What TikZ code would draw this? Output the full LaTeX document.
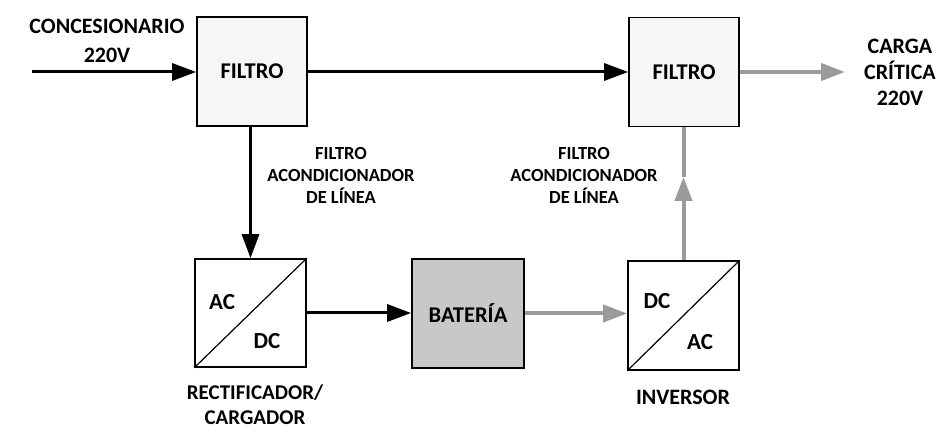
\documentclass[tikz,border=0pt]{standalone}
\usepackage{fontspec}
\setmainfont{Carlito}
\usetikzlibrary{arrows.meta}
\definecolor{arrgray}{RGB}{155,155,155}
\definecolor{boxfill}{RGB}{246,246,246}
\definecolor{batfill}{RGB}{200,200,200}
\tikzset{
  blk/.style={draw=black,line width=3pt,-{Triangle[length=24pt,width=17pt]}},
  gry/.style={draw=arrgray,line width=4pt,-{Triangle[length=24pt,width=17pt]}},
  gryline/.style={draw=arrgray,line width=4pt},
  blockbox/.style={draw=black,line width=1.6pt,minimum width=110pt,minimum height=109pt,inner sep=0pt,font=\bfseries\fontsize{22.5}{26}\selectfont},
  lbl/.style={font=\bfseries\fontsize{22}{27}\selectfont,align=center,inner sep=0pt},
  small/.style={font=\bfseries\fontsize{18.5}{22}\selectfont,align=center,inner sep=0pt},
  conv/.style={font=\bfseries\fontsize{23}{26}\selectfont,inner sep=0pt}
}
\begin{document}
\begin{tikzpicture}[x=1pt,y=-1pt]
\useasboundingbox[fill=white] (0,0) rectangle (947,435);
% boxes
\node[blockbox,fill=boxfill] (f1) at (252,71.5) {FILTRO};
\node[blockbox,fill=boxfill] (f2) at (684,72) {FILTRO};
\node[blockbox,fill=white,minimum width=111pt,minimum height=108pt] (rect) at (250.5,313) {};
\node[blockbox,fill=batfill,minimum width=112pt] (bat) at (468,313.5) {BATERÍA};
\node[blockbox,fill=white,minimum width=111pt] (inv) at (683.5,315.5) {};
\draw[line width=1.2pt] (rect.south west) -- (rect.north east);
\draw[line width=1.2pt] (inv.south west) -- (inv.north east);
\node[conv] (ac1) at (222,302) {AC};
\node[conv] (dc1) at (267,341) {DC};
\node[conv] (dc2) at (657,301) {DC};
\node[conv] (ac2) at (700,342) {AC};
% labels
\node[lbl,font=\bfseries\fontsize{22}{29}\selectfont] (src) at (107,40.5) {CONCESIONARIO\\220V};
\node[lbl,font=\bfseries\fontsize{22}{26}\selectfont] (load) at (900,72) {CARGA\\CRÍTICA\\220V};
\node[small] (lab1) at (341,175) {FILTRO\\ACONDICIONADOR\\DE LÍNEA};
\node[small] (lab2) at (584,175) {FILTRO\\ACONDICIONADOR\\DE LÍNEA};
\node[lbl,font=\bfseries\fontsize{21}{25}\selectfont] (rlab) at (255,404.5) {RECTIFICADOR/\\CARGADOR};
\node[lbl] (ilab) at (683,397) {INVERSOR};
% connectors
\coordinate (in) at (32,72);
\coordinate (out) at (845,72);
\coordinate (mid) at (683.5,177);
\draw[blk] (in) -- (in -| f1.west);
\draw[blk] (f1.east |- in) -- (in -| f2.west);
\draw[gry] (f2.east |- out) -- (out);
\draw[blk] (f1.south -| rect.north) -- (rect.north);
\draw[blk] (rect.east) -- (rect.east -| bat.west);
\draw[gry] (bat.east) -- (bat.east -| inv.west);
\draw[gry] (inv.north) -- (mid);
\draw[gryline] (mid) -- (mid |- f2.south);
\end{tikzpicture}
\end{document}
